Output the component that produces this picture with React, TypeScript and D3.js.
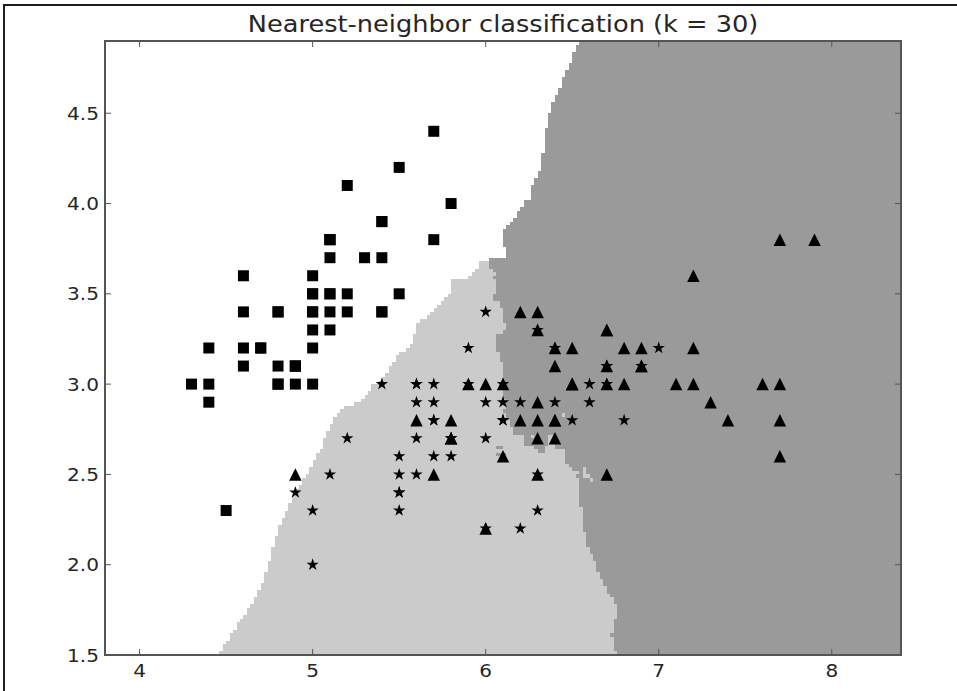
import React, { useMemo } from "react";
import * as d3 from "d3";

// Iris sepal length / sepal width, by class (as plotted)
const setosaLength = [5.1,4.9,4.7,4.6,5.0,5.4,4.6,5.0,4.4,4.9,5.4,4.8,4.8,4.3,5.8,5.7,5.4,5.1,5.7,5.1,5.4,5.1,4.6,5.1,4.8,5.0,5.0,5.2,5.2,4.7,4.8,5.4,5.2,5.5,4.9,5.0,5.5,4.9,4.4,5.1,5.0,4.5,4.4,5.0,5.1,4.8,5.1,4.6,5.3,5.0];
const setosaWidth  = [3.5,3.0,3.2,3.1,3.6,3.9,3.4,3.4,2.9,3.1,3.7,3.4,3.0,3.0,4.0,4.4,3.9,3.5,3.8,3.8,3.4,3.7,3.6,3.3,3.4,3.0,3.4,3.5,3.4,3.2,3.1,3.4,4.1,4.2,3.1,3.2,3.5,3.1,3.0,3.4,3.5,2.3,3.2,3.5,3.8,3.0,3.8,3.2,3.7,3.3];
const versicolorLength = [7.0,6.4,6.9,5.5,6.5,5.7,6.3,4.9,6.6,5.2,5.0,5.9,6.0,6.1,5.6,6.7,5.6,5.8,6.2,5.6,5.9,6.1,6.3,6.1,6.4,6.6,6.8,6.7,6.0,5.7,5.5,5.5,5.8,6.0,5.4,6.0,6.7,6.3,5.6,5.5,5.5,6.1,5.8,5.0,5.6,5.7,5.7,6.2,5.1,5.7];
const versicolorWidth  = [3.2,3.2,3.1,2.3,2.8,2.8,3.3,2.4,2.9,2.7,2.0,3.0,2.2,2.9,2.9,3.1,3.0,2.7,2.2,2.5,3.2,2.8,2.5,2.8,2.9,3.0,2.8,3.0,2.9,2.6,2.4,2.4,2.7,2.7,3.0,3.4,3.1,2.3,3.0,2.5,2.6,3.0,2.6,2.3,2.7,3.0,2.9,2.9,2.5,2.8];
const virginicaLength = [6.3,5.8,7.1,6.3,6.5,7.6,4.9,7.3,6.7,7.2,6.5,6.4,6.8,5.7,5.8,6.4,6.5,7.7,7.7,6.0,6.9,5.6,7.7,6.3,6.7,7.2,6.2,6.1,6.4,7.2,7.4,7.9,6.4,6.3,6.1,7.7,6.3,6.4,6.0,6.9,6.7,6.9,5.8,6.8,6.7,6.7,6.3,6.5,6.2,5.9];
const virginicaWidth  = [3.3,2.7,3.0,2.9,3.0,3.0,2.5,2.9,2.5,3.6,3.2,2.7,3.0,2.5,2.8,3.2,3.0,3.8,2.6,2.2,3.2,2.8,2.8,2.7,3.3,3.2,2.8,3.0,2.8,3.0,2.8,3.8,2.8,2.8,2.6,3.0,3.4,3.1,3.0,3.1,3.1,3.1,2.7,3.2,3.3,3.0,2.5,3.0,3.4,3.0];

const xTicks = [4, 5, 6, 7, 8];
const yTicks = [1.5, 2.0, 2.5, 3.0, 3.5, 4.0, 4.5];
const xDomain = [3.8, 8.4];
const yDomain = [1.5, 4.9];
const regionColors = ["#ffffff", "#cbcbcb", "#9a9a9a"];
const titleText = "Nearest-neighbor classification (k = 30)";
const K = 30;
const STEP = 0.02;

const W = 957, Hh = 691;
const L = 105, T = 41, R = 901, B = 655;
const SX = 1.115; // horizontal text stretch seen in reference

const squareType = {
  draw(ctx: any, size: number) {
    const h = Math.sqrt(size) / 2;
    ctx.moveTo(-h, -h); ctx.lineTo(h, -h); ctx.lineTo(h, h); ctx.lineTo(-h, h); ctx.closePath();
  },
};
const triangleType = {
  draw(ctx: any, size: number) {
    const h = Math.sqrt(size) / 2;
    ctx.moveTo(0, -h); ctx.lineTo(h, h); ctx.lineTo(-h, h); ctx.closePath();
  },
};
const starType = {
  draw(ctx: any, size: number) {
    const ro = Math.sqrt(size) / 2;
    const ri = ro * 0.381966;
    for (let i = 0; i < 10; i++) {
      const r = i % 2 === 0 ? ro : ri;
      const a = -Math.PI / 2 + (i * Math.PI) / 5;
      const x = r * Math.cos(a), y = r * Math.sin(a);
      if (i === 0) ctx.moveTo(x, y); else ctx.lineTo(x, y);
    }
    ctx.closePath();
  },
};

export default function App() {
  const x = d3.scaleLinear().domain(xDomain).range([L, R]);
  const y = d3.scaleLinear().domain(yDomain).range([B, T]);

  const points = useMemo(() => {
    const p: { x: number; y: number; c: number }[] = [];
    setosaLength.forEach((v, i) => p.push({ x: v, y: setosaWidth[i], c: 0 }));
    versicolorLength.forEach((v, i) => p.push({ x: v, y: versicolorWidth[i], c: 1 }));
    virginicaLength.forEach((v, i) => p.push({ x: v, y: virginicaWidth[i], c: 2 }));
    return p;
  }, []);

  const runs = useMemo(() => {
    const nx = d3.range(xDomain[0], xDomain[1], STEP).length;
    const ny = d3.range(yDomain[0], yDomain[1], STEP).length;
    const out: { x0: number; x1: number; y0: number; c: number }[] = [];
    const n = points.length;
    const dist = new Float64Array(n);
    const idx = new Array(n);
    for (let j = 0; j < ny; j++) {
      const gy = yDomain[0] + j * STEP;
      let cur = -1, start = 0;
      for (let i = 0; i <= nx; i++) {
        let cls = -1;
        if (i < nx) {
          const gx = xDomain[0] + i * STEP;
          for (let k = 0; k < n; k++) {
            const dx = points[k].x - gx, dy = points[k].y - gy;
            dist[k] = Math.sqrt(dx * dx + dy * dy);
            idx[k] = k;
          }
          idx.sort((a: number, b: number) => dist[a] - dist[b] || a - b);
          const cnt = [0, 0, 0];
          for (let k = 0; k < K; k++) cnt[points[idx[k]].c]++;
          cls = 0;
          if (cnt[1] > cnt[cls]) cls = 1;
          if (cnt[2] > cnt[cls]) cls = 2;
        }
        if (cls !== cur) {
          if (cur > 0) out.push({ x0: start, x1: i, y0: j, c: cur });
          cur = cls; start = i;
        }
      }
    }
    return out;
  }, [points]);

  const sym = d3.symbol();
  const squarePath = sym.type(squareType as any).size(11 * 11)() as string;
  const trianglePath = d3.symbol().type(triangleType as any).size(12.5 * 12.5)() as string;
  const starPath = d3.symbol().type(starType as any).size(13 * 13)() as string;
  const paths = [squarePath, starPath, trianglePath];

  const tickLen = 6;
  const axisColor = "#555555";
  const textColor = "#262626";
  const font = "DejaVu Sans, sans-serif";

  return (
    <svg width={W} height={Hh} style={{ position: "absolute", left: 0, top: 0, background: "#ffffff" }}>
      <defs>
        <clipPath id="plotClip">
          <rect x={L} y={T} width={R - L} height={B - T} />
        </clipPath>
      </defs>
      <rect x={0} y={0} width={W} height={Hh} fill="#ffffff" />
      {/* outer frame */}
      <path d={`M4,${Hh} L4,5 L${W},5`} fill="none" stroke="#1e1e1e" strokeWidth={2} />

      <g clipPath="url(#plotClip)">
        {runs.map((r, i) => (
          <rect
            key={i}
            x={x(xDomain[0] + r.x0 * STEP)}
            width={x(xDomain[0] + r.x1 * STEP) - x(xDomain[0] + r.x0 * STEP) + (r.x1 * STEP + xDomain[0] >= xDomain[1] - 1e-9 ? 4 : 0)}
            y={y(yDomain[0] + (r.y0 + 1) * STEP) - (r.y0 === 169 ? 4 : 0)}
            height={y(yDomain[0] + r.y0 * STEP) - y(yDomain[0] + (r.y0 + 1) * STEP) + (r.y0 === 169 ? 4 : 0)}
            fill={regionColors[r.c]}
            shapeRendering="crispEdges"
          />
        ))}
        {points.map((p, i) => (
          <path key={i} d={paths[p.c]} transform={`translate(${x(p.x)},${y(p.y)})`} fill="#000000" />
        ))}
      </g>

      {/* spines */}
      <rect x={L} y={T} width={R - L} height={B - T} fill="none" stroke={axisColor} strokeWidth={2} />

      {/* ticks */}
      {xTicks.map((t) => (
        <g key={"xt" + t}>
          <line x1={x(t)} x2={x(t)} y1={B} y2={B - tickLen} stroke={axisColor} strokeWidth={1} />
          <line x1={x(t)} x2={x(t)} y1={T} y2={T + tickLen} stroke={axisColor} strokeWidth={1} />
          <text
            transform={`translate(${x(t)},677) scale(${SX},1)`}
            textAnchor="middle"
            fontFamily={font}
            fontSize={18}
            fill={textColor}
          >
            {d3.format("d")(t)}
          </text>
        </g>
      ))}
      {yTicks.map((t) => (
        <g key={"yt" + t}>
          <line x1={L} x2={L + tickLen} y1={y(t)} y2={y(t)} stroke={axisColor} strokeWidth={1} />
          <line x1={R} x2={R - tickLen} y1={y(t)} y2={y(t)} stroke={axisColor} strokeWidth={1} />
          <text
            transform={`translate(99,${y(t) + 6.5}) scale(${SX},1)`}
            textAnchor="end"
            fontFamily={font}
            fontSize={18}
            fill={textColor}
          >
            {d3.format(".1f")(t)}
          </text>
        </g>
      ))}

      {/* title */}
      <text
        transform={`translate(${(L + R) / 2},32) scale(${SX},1)`}
        textAnchor="middle"
        fontFamily={font}
        fontSize={23}
        fill={textColor}
      >
        {titleText}
      </text>
    </svg>
  );
}
